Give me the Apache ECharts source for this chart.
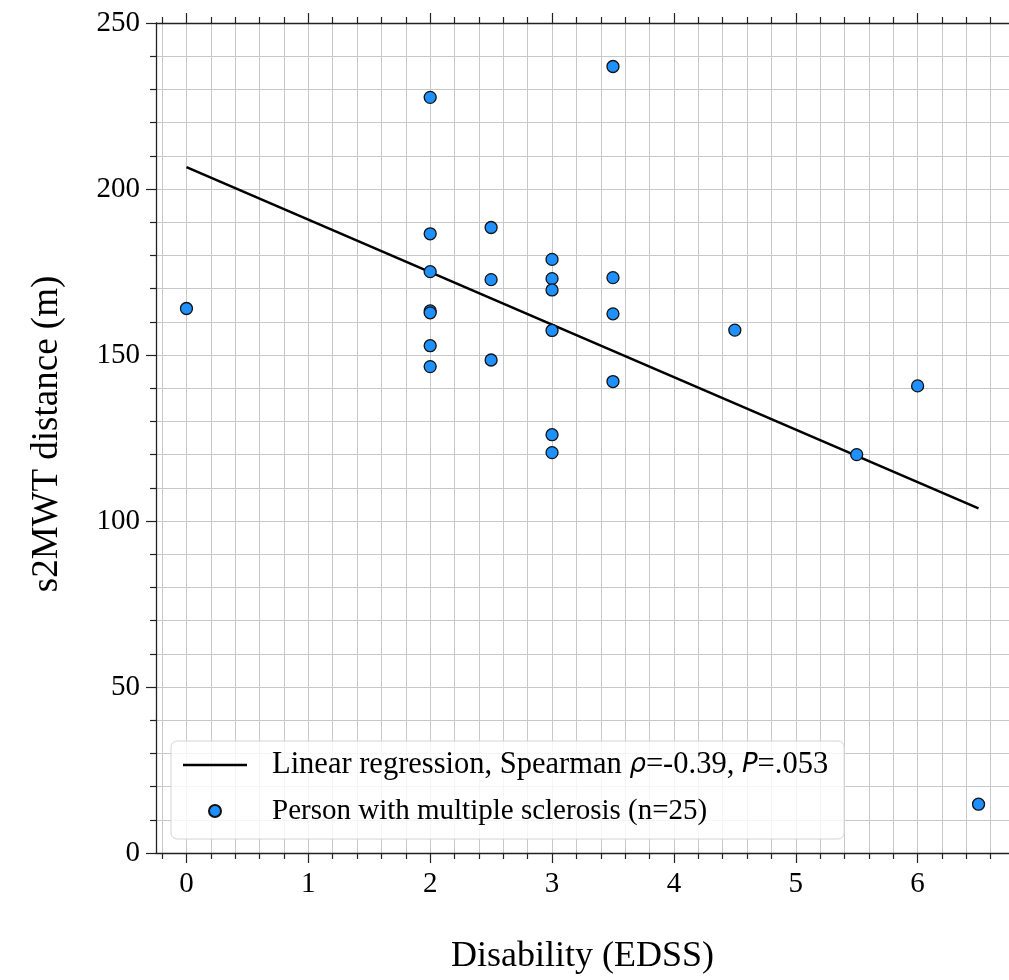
<!DOCTYPE html>
<html>
<head>
<meta charset="utf-8">
<script src="https://cdn.jsdelivr.net/npm/echarts@6/dist/echarts.min.js"></script>
<style>html,body{margin:0;padding:0;background:#fff}#c{width:1009px;height:980px}</style>
</head>
<body>
<div id="c"></div>
<script>
// EDSS disability score per person
var edss = [0, 2, 2, 2, 2, 2, 2, 2, 2.5, 2.5, 2.5, 3, 3, 3, 3, 3, 3, 3.5, 3.5, 3.5, 3.5, 4.5, 5.5, 6, 6.5];
// s2MWT distance (m) per person
var dist = [164, 227.6, 186.5, 175.1, 163.3, 162.7, 152.8, 146.5, 188.4, 172.7, 148.5, 178.8, 173.0, 169.6, 157.4, 126.0, 120.6, 236.9, 173.3, 162.4, 142.0, 157.5, 120.0, 140.7, 14.7];
// regression line endpoints
var regX = [0, 6.5];
var regY = [206.6, 103.8];
// axis ticks
var xMajor = [0, 1, 2, 3, 4, 5, 6];
var xMinor = [];
for (var k = -1; k <= 34; k++) { if (k % 5 !== 0) xMinor.push(Math.round(k * 20) / 100); }
var xMin = -0.25, xMax = 6.75;
var yMin = 0, yMax = 250, yStep = 50;

var lineName = 'Linear regression, Spearman ρ=-0.39, P=.053';
var dotName = 'Person with multiple sclerosis (n=25)';

var points = edss.map(function (x, i) { return [x, dist[i]]; });
var regLine = regX.map(function (x, i) { return [x, regY[i]]; });

var serif = 'Liberation Serif';
var axisColor = '#222';
var gridColor = '#c8c8c8';

function xAxisDef(pos, vals, len, labels, split, lineShow) {
  return {
    type: 'value', position: pos, min: xMin, max: xMax,
    axisLine: { show: lineShow, onZero: false, lineStyle: { color: axisColor, width: 1.3 } },
    axisTick: { show: true, customValues: vals, length: len, lineStyle: { color: axisColor, width: 1.2 } },
    axisLabel: labels ? { show: true, customValues: vals, margin: 17, color: '#000', fontFamily: serif, fontSize: 29 } : { show: false },
    splitLine: { show: split, lineStyle: { color: gridColor, width: 1 } }
  };
}

var xa0 = xAxisDef('bottom', xMajor, 10, true, true, true);
xa0.name = 'Disability (EDSS)';
xa0.nameLocation = 'middle';
xa0.nameGap = 86;
xa0.nameTextStyle = { fontFamily: serif, fontSize: 36, color: '#000' };

var chart = echarts.init(document.getElementById('c'), null, { renderer: 'canvas' });
chart.setOption({
  animation: false,
  backgroundColor: '#fff',
  grid: { left: 156, top: 23, right: 0, height: 833, containLabel: false },
  xAxis: [
    xa0,
    xAxisDef('bottom', xMinor, 6, false, true, false),
    xAxisDef('top', xMajor, 10, false, false, true),
    xAxisDef('top', xMinor, 6, false, false, false)
  ],
  yAxis: {
    type: 'value', min: yMin, max: yMax, interval: yStep,
    name: 's2MWT distance (m)', nameLocation: 'middle', nameGap: 90,
    nameTextStyle: { fontFamily: serif, fontSize: 37, color: '#000', padding: [0, 0, 0, 8] },
    axisLine: { show: true, onZero: false, lineStyle: { color: axisColor, width: 1.3 } },
    axisTick: { show: true, length: 10, lineStyle: { color: axisColor, width: 1.2 } },
    minorTick: { show: true, splitNumber: 5, length: 6, lineStyle: { color: axisColor, width: 1.2 } },
    axisLabel: { margin: 16, color: '#000', fontFamily: serif, fontSize: 29 },
    splitLine: { show: true, lineStyle: { color: gridColor, width: 1 } },
    minorSplitLine: { show: true, lineStyle: { color: gridColor, width: 1 } }
  },
  legend: {
    orient: 'vertical', left: 171, top: 741,
    padding: [7, 16, 11, 12], itemGap: 12, itemWidth: 64, itemHeight: 12,
    backgroundColor: 'rgba(255,255,255,0.82)', borderColor: '#d4d4d4', borderWidth: 1, borderRadius: 6,
    data: [
      { name: lineName, icon: 'path://M0,0 L64,0 L64,2.6 L0,2.6 Z', itemStyle: { color: '#000' } },
      { name: dotName }
    ],
    formatter: function (n) {
      if (n === lineName) return '{w|Linear regression, Spearman }{i|ρ}{w|=-0.39, }{i|P}{w|=.053}';
      return '{r|' + n + '}';
    },
    textStyle: {
      padding: [0, 0, 0, 20],
      lineHeight: 34, height: 34,
      rich: {
        w: { fontFamily: serif, fontSize: 30.5, color: '#000', lineHeight: 34, height: 34 },
        r: { fontFamily: serif, fontSize: 29, color: '#000', lineHeight: 34, height: 34 },
        i: { fontFamily: 'DejaVu Sans', fontStyle: 'italic', fontSize: 26, color: '#000', lineHeight: 34, height: 34 }
      }
    }
  },
  series: [
    {
      name: lineName, type: 'line', xAxisIndex: 0, data: regLine,
      symbol: 'none', showSymbol: false, lineStyle: { color: '#000', width: 2.6 }, itemStyle: { color: '#000' }, z: 3
    },
    {
      name: dotName, type: 'scatter', xAxisIndex: 0, data: points,
      symbol: 'circle', symbolSize: 12,
      itemStyle: { color: '#1e90ff', borderColor: '#111', borderWidth: 1.3, opacity: 1 }, z: 4
    }
  ]
});
</script>
</body>
</html>
